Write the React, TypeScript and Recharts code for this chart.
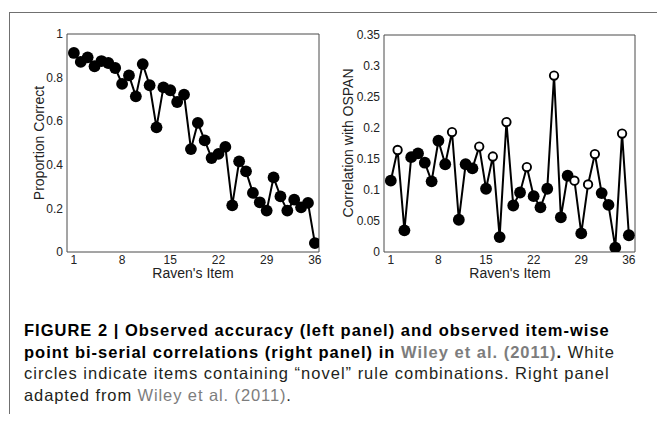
import React from 'react';
import { LineChart, Line, XAxis, YAxis } from 'recharts';

const items = [1, 2, 3, 4, 5, 6, 7, 8, 9, 10, 11, 12, 13, 14, 15, 16, 17, 18, 19, 20, 21, 22, 23, 24, 25, 26, 27, 28, 29, 30, 31, 32, 33, 34, 35, 36];
const accuracy = [0.913, 0.872, 0.893, 0.852, 0.876, 0.867, 0.844, 0.771, 0.81, 0.714, 0.862, 0.765, 0.572, 0.755, 0.742, 0.688, 0.722, 0.472, 0.592, 0.512, 0.431, 0.45, 0.482, 0.214, 0.416, 0.37, 0.271, 0.228, 0.19, 0.342, 0.255, 0.19, 0.24, 0.205, 0.225, 0.041];
const correlation = [0.115, 0.1645, 0.035, 0.153, 0.159, 0.144, 0.114, 0.1795, 0.1415, 0.1935, 0.052, 0.1415, 0.135, 0.17, 0.102, 0.154, 0.024, 0.2095, 0.075, 0.096, 0.137, 0.09, 0.072, 0.102, 0.2846, 0.056, 0.123, 0.115, 0.03, 0.109, 0.158, 0.095, 0.076, 0.007, 0.191, 0.027];
const novelItems = [2, 10, 14, 16, 18, 21, 25, 28, 30, 31, 35];
const itemTicks = [1, 8, 15, 22, 29, 36];
const accuracyTicks = [0, 0.2, 0.4, 0.6, 0.8, 1];
const correlationTicks = [0, 0.05, 0.1, 0.15, 0.2, 0.25, 0.3, 0.35];

const leftData = items.map((item, i) => ({ item, value: accuracy[i], novel: false }));
const rightData = items.map((item, i) => ({ item, value: correlation[i], novel: novelItems.includes(item) }));

const FONT = '"Liberation Sans", Arial, Helvetica, sans-serif';
const AXIS = '#4a4a4a';
const TEXT = '#222';

const renderDot = (props: any) => {
  const { cx, cy, payload, index } = props;
  if (cx == null || cy == null) return <g key={`d${index}`} />;
  if (payload && payload.novel) {
    return <circle key={`d${index}`} cx={cx} cy={cy} r={4.2} fill="#fff" stroke="#000" strokeWidth={1.9} />;
  }
  return <circle key={`d${index}`} cx={cx} cy={cy} r={5.9} fill="#000" stroke="none" />;
};

type PanelProps = {
  data: any[];
  width: number;
  height: number;
  margin: { top: number; right: number; bottom: number; left: number };
  xDomain: [number, number];
  yDomain: [number, number];
  yTicks: number[];
};

function Panel({ data, width, height, margin, xDomain, yDomain, yTicks }: PanelProps) {
  const tickStyle = { fontSize: 12, fill: TEXT, fontFamily: FONT };
  return (
    <LineChart width={width} height={height} data={data} margin={margin}>
      <XAxis
        xAxisId="b"
        dataKey="item"
        type="number"
        domain={xDomain}
        ticks={itemTicks}
        interval={0}
        allowDataOverflow
        height={1}
        tickLine={false}
        tickSize={0}
        tickMargin={3}
        axisLine={{ stroke: AXIS, strokeWidth: 1 }}
        tick={tickStyle}
      />
      <XAxis
        xAxisId="bi"
        dataKey="item"
        type="number"
        domain={xDomain}
        ticks={itemTicks}
        interval={0}
        allowDataOverflow
        mirror
        height={1}
        tick={false}
        tickSize={3}
        axisLine={false}
        tickLine={{ stroke: AXIS }}
      />
      <XAxis
        xAxisId="t"
        orientation="top"
        dataKey="item"
        type="number"
        domain={xDomain}
        ticks={itemTicks}
        interval={0}
        allowDataOverflow
        mirror
        height={1}
        tick={false}
        tickSize={3}
        axisLine={{ stroke: AXIS, strokeWidth: 1 }}
        tickLine={{ stroke: AXIS }}
      />
      <YAxis
        yAxisId="l"
        type="number"
        domain={yDomain}
        ticks={yTicks}
        interval={0}
        allowDataOverflow
        width={1}
        tickLine={false}
        tickSize={0}
        tickMargin={4}
        axisLine={{ stroke: AXIS, strokeWidth: 1 }}
        tick={tickStyle}
      />
      <YAxis
        yAxisId="li"
        type="number"
        domain={yDomain}
        ticks={yTicks}
        interval={0}
        allowDataOverflow
        mirror
        width={1}
        tick={false}
        tickSize={3}
        axisLine={false}
        tickLine={{ stroke: AXIS }}
      />
      <YAxis
        yAxisId="r"
        orientation="right"
        type="number"
        domain={yDomain}
        ticks={yTicks}
        interval={0}
        allowDataOverflow
        mirror
        width={1}
        tick={false}
        tickSize={3}
        axisLine={{ stroke: AXIS, strokeWidth: 1 }}
        tickLine={{ stroke: AXIS }}
      />
      <Line
        xAxisId="b"
        yAxisId="l"
        type="linear"
        dataKey="value"
        stroke="#000"
        strokeWidth={2}
        dot={renderDot}
        activeDot={false}
        isAnimationActive={false}
      />
    </LineChart>
  );
}

const titleStyle: React.CSSProperties = {
  position: 'absolute',
  fontFamily: FONT,
  fontSize: 14,
  color: TEXT,
  whiteSpace: 'nowrap',
  lineHeight: '14px',
};

const capLine: React.CSSProperties = {
  position: 'absolute',
  left: 24,
  fontFamily: FONT,
  fontSize: 16.5,
  letterSpacing: 1,
  whiteSpace: 'nowrap',
  lineHeight: '20px',
  color: '#231f20',
};

const link = '#7d7d7d';

export default function App() {
  return (
    <div style={{ position: 'absolute', left: 0, top: 0, width: 657, height: 422, background: '#fff', overflow: 'hidden' }}>
      <div style={{ position: 'absolute', left: 9, top: 12, width: 660, height: 401, borderTop: '1px solid #707070', borderLeft: '1px solid #707070' }} />

      <div style={{ position: 'absolute', left: 0, top: 0 }}>
        <Panel
          data={leftData}
          width={330}
          height={290}
          margin={{ top: 34, right: 11, bottom: 37, left: 66 }}
          xDomain={[0, 36.6]}
          yDomain={[0, 1]}
          yTicks={accuracyTicks}
        />
      </div>
      <div style={{ position: 'absolute', left: 330, top: 0 }}>
        <Panel
          data={rightData}
          width={327}
          height={290}
          margin={{ top: 35, right: 22, bottom: 37, left: 53 }}
          xDomain={[0, 36.9]}
          yDomain={[0, 0.35]}
          yTicks={correlationTicks}
        />
      </div>

      <div style={{ ...titleStyle, left: 193, top: 266, transform: 'translateX(-50%)' }}>Raven's Item</div>
      <div style={{ ...titleStyle, left: 510, top: 266, transform: 'translateX(-50%)' }}>Raven's Item</div>
      <div style={{ ...titleStyle, left: 39, top: 143, transform: 'translate(-50%, -50%) rotate(-90deg)' }}>Proportion Correct</div>
      <div style={{ ...titleStyle, left: 348, top: 143, transform: 'translate(-50%, -50%) rotate(-90deg)' }}>Correlation with OSPAN</div>

      <div style={{ ...capLine, top: 320, fontWeight: 700, color: '#000' }}>
        FIGURE 2 | Observed accuracy (left panel) and observed item-wise
      </div>
      <div style={{ ...capLine, top: 341.5 }}>
        <span style={{ fontWeight: 700, color: '#000' }}>point bi-serial correlations (right panel) in </span>
        <span style={{ fontWeight: 700, color: link }}>Wiley et al. (2011)</span>
        <span style={{ fontWeight: 700, color: '#000' }}>.</span>
        <span> White</span>
      </div>
      <div style={{ ...capLine, top: 363 }}>
        circles indicate items containing “novel” rule combinations. Right panel
      </div>
      <div style={{ ...capLine, top: 385, letterSpacing: 0.9 }}>
        adapted from <span style={{ color: link }}>Wiley et al. (2011)</span>.
      </div>
    </div>
  );
}
